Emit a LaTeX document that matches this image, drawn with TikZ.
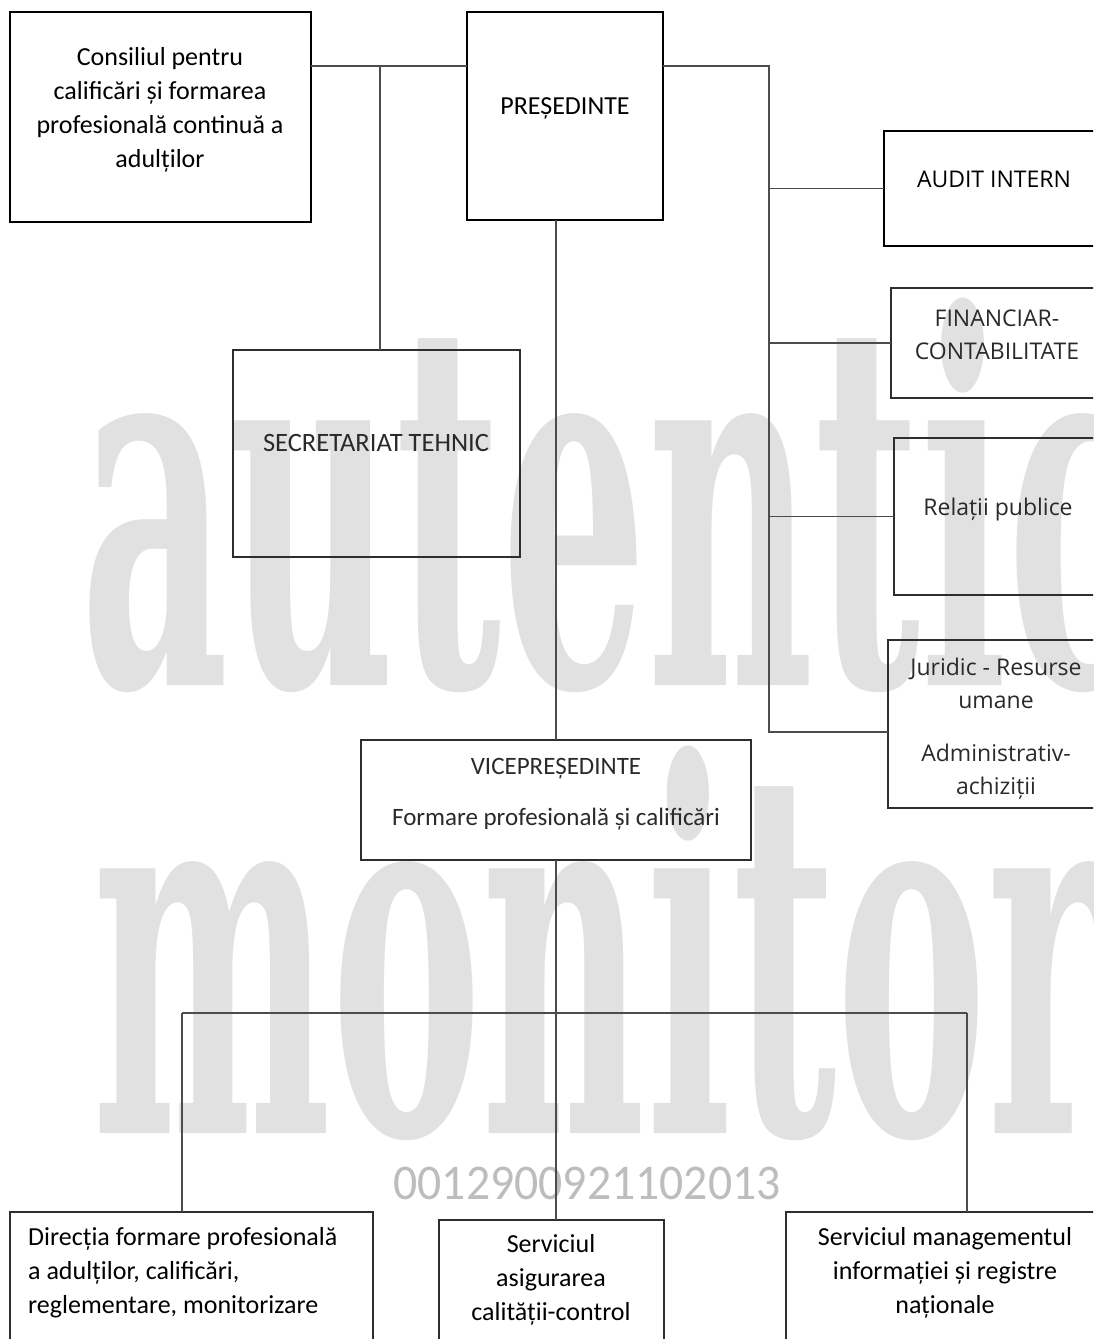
\documentclass[tikz,border=0pt]{standalone}
\usepackage{fontspec}
\setmainfont{Carlito}
\newfontfamily\osans{Open Sans}
\newfontfamily\wmfont{DejaVu Serif}
\usetikzlibrary{calc}
\definecolor{wmgray}{HTML}{E1E1E1}
\definecolor{numgray}{HTML}{BDBDBD}
\definecolor{txtgray}{HTML}{2A2A2A}
\begin{document}
\begin{tikzpicture}[x=1pt,y=-1pt,
  box/.style={draw=black, line width=2pt, inner sep=0pt, outer sep=0pt},
  gbox/.style={box, draw=black!82},
  conn/.style={draw=black!70, line width=1.3pt},
  lbl/.style={inner sep=0pt, align=center, font=\fontsize{26}{34}\selectfont},
  olbl/.style={inner sep=0pt, align=center, text=txtgray, font=\osans\fontsize{23}{33}\selectfont},
  wm/.style={inner sep=0pt, text=wmgray, font=\wmfont\bfseries\fontsize{510}{510}\selectfont}]
\useasboundingbox (0,0) rectangle (1093,1339);
\clip (0,0) rectangle (1093,1339);
% watermark
\node[wm, anchor=base west] (wma) at (80,685) {\scalebox{0.45}[1]{autentic}};
\node[wm, anchor=base west] (wmb) at (92,1133) {\scalebox{0.443}[1]{monitor}};
\node[inner sep=0pt, text=numgray, font=\fontsize{50}{50}\selectfont] (num) at (587,1183) {\scalebox{0.955}[1]{0012900921102013}};
% boxes
\node[box, minimum width=301pt, minimum height=210pt] (cons) at (160.5,117) {};
\node[box, minimum width=196pt, minimum height=208pt] (pres) at (565,116) {};
\node[gbox, minimum width=287pt, minimum height=207pt] (sec) at (376.5,453.5) {};
\node[box, minimum width=221pt, minimum height=115pt] (audit) at (994.5,188.5) {};
\node[gbox, minimum width=214pt, minimum height=110pt] (fin) at (998,343) {};
\node[gbox, minimum width=211pt, minimum height=157pt] (rel) at (999.5,516.5) {};
\node[gbox, minimum width=217pt, minimum height=168pt] (jur) at (996.5,724) {};
\node[gbox, minimum width=390pt, minimum height=120pt] (vice) at (556,800) {};
\node[gbox, minimum width=363pt, minimum height=140pt] (dir) at (191.5,1282) {};
\node[gbox, minimum width=225pt, minimum height=132pt] (serv) at (551.5,1286) {};
\node[gbox, minimum width=319pt, minimum height=140pt] (info) at (945.5,1282) {};
% connectors
\coordinate (j1) at (380,66);
\coordinate (rb) at (769,66);
\draw[conn] (cons.east |- j1) -- (pres.west |- j1);
\draw[conn] (j1) -- (j1 |- sec.north);
\draw[conn] (pres.east |- rb) -- (rb) |- ([yshift=-8pt]jur.west);
\draw[conn] (rb |- audit.west) -- (audit.west);
\draw[conn] (rb |- fin.west) -- (fin.west);
\draw[conn] (rb |- rel.west) -- (rel.west);
\draw[conn] (pres.south -| vice.north) -- (vice.north);
\coordinate (bl) at (182,1013);
\coordinate (bm) at (556,1013);
\coordinate (br) at (967,1013);
\draw[conn] (vice.south) -- (bm);
\draw[conn] (bl) -- (br);
\draw[conn] (bl) -- (bl |- dir.north);
\draw[conn] (bm) -- (bm |- serv.north);
\draw[conn] (br) -- (br |- info.north);
% labels
\node[lbl] (tcons) at (160,110) {Consiliul pentru\\calificări și formarea\\profesională continuă a\\adulților};
\node[lbl, anchor=base] (tpres) at (565,114) {PREȘEDINTE};
\node[lbl, anchor=base, text=txtgray, font=\fontsize{26.5}{34}\selectfont] (tsec) at (376,451) {SECRETARIAT TEHNIC};
\node[olbl, anchor=base, text=black] (taudit) at (994,187) {AUDIT INTERN};
\node[olbl] (tfin) at (997,335) {FINANCIAR-\\CONTABILITATE};
\node[olbl, anchor=base] (trel) at (998,515) {Relații publice};
\node[olbl] (tjur) at (996,729) {Juridic - Resurse\\umane\\[20pt]Administrativ-\\achiziții};
\node[lbl, text=txtgray, font=\fontsize{25}{34}\selectfont] (tvice) at (556,794) {VICEPREȘEDINTE\\[17pt]Formare profesională și calificări};
\node[lbl, align=left, anchor=west] (tdir) at (28,1273) {Direcția formare profesională\\a adulților, calificări,\\reglementare, monitorizare};
\node[lbl] (tserv) at (551,1280) {Serviciul\\asigurarea\\calității-control};
\node[lbl] (tinfo) at (945,1273) {Serviciul managementul\\informației și registre\\naționale};
\end{tikzpicture}
\end{document}
